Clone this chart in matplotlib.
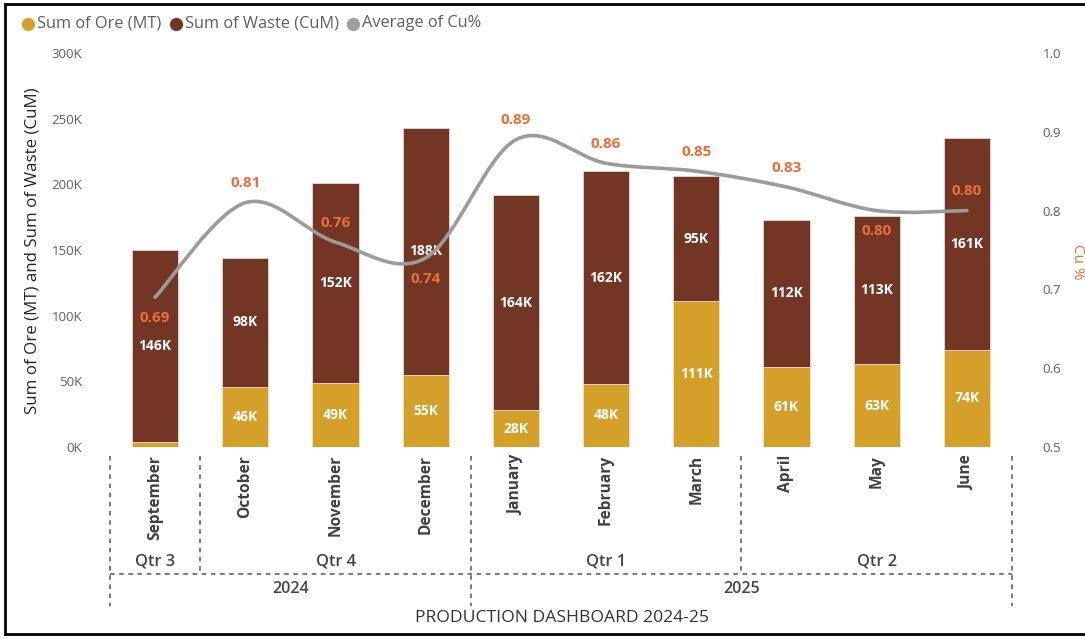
import matplotlib
matplotlib.use("Agg")
import matplotlib.pyplot as plt
from matplotlib.path import Path
from matplotlib.patches import PathPatch
from matplotlib.lines import Line2D
from matplotlib.ticker import FuncFormatter, MultipleLocator

plt.rcParams['font.family'] = ['Open Sans', 'DejaVu Sans']

months = ["September", "October", "November", "December", "January",
          "February", "March", "April", "May", "June"]
quarters = ["Qtr 3", "Qtr 4", "Qtr 1", "Qtr 2"]
quarter_sizes = [1, 3, 3, 3]
years = ["2024", "2025"]
year_sizes = [4, 6]
ore = [4, 46, 49, 55, 28, 48, 111, 61, 63, 74]          # K MT
waste = [146, 98, 152, 188, 164, 162, 95, 112, 113, 161]  # K CuM
cu = [0.69, 0.81, 0.76, 0.74, 0.89, 0.86, 0.85, 0.83, 0.80, 0.80]
cu_label_pos = ["below", "above", "above", "below", "above",
                "above", "above", "above", "below", "above"]

ORE_C = "#D4A02A"
WASTE_C = "#733524"
LINE_C = "#9B9B9B"
LBL_C = "#E8703A"
TXT_C = "#605E5C"

fig = plt.figure(figsize=(10.85, 6.39), dpi=100)
ax = fig.add_axes([110/1085, 1-447/639, 902/1085, 394/639])
ax2 = ax.twinx()
ax.set_zorder(1)
ax2.set_zorder(2)
ax.patch.set_visible(False)

x = list(range(len(months)))
w = 0.51
ax.bar(x, ore, w, color=ORE_C, edgecolor="#F3E3B8", linewidth=0.6)
ax.bar(x, waste, w, bottom=ore, color=WASTE_C, edgecolor="#E9D8D2", linewidth=0.6)

for i in x:
    if ore[i] >= 10:
        ax.text(i, ore[i]/2, f"{ore[i]}K", ha="center", va="center", color="white",
                fontsize=10, fontweight="bold")
    ax.text(i, ore[i] + waste[i]/2, f"{waste[i]}K", ha="center", va="center",
            color="white", fontsize=10, fontweight="bold")

ax.set_xlim(-0.5, len(months)-0.5)
ax.set_ylim(0, 300)
ax.yaxis.set_major_locator(MultipleLocator(50))
ax.yaxis.set_major_formatter(FuncFormatter(lambda v, p: f"{int(v)}K"))
ax.tick_params(axis="y", length=0, labelsize=9.5, labelcolor=TXT_C, pad=20)
ax.set_xticks([])
for s in ax.spines.values():
    s.set_visible(False)

# smooth line (cardinal spline through the points)
ax2.set_ylim(0.5, 1.0)
ax2.yaxis.set_major_locator(MultipleLocator(0.1))
ax2.yaxis.set_major_formatter(FuncFormatter(lambda v, p: f"{v:.1f}"))
ax2.tick_params(axis="y", length=0, labelsize=9.5, labelcolor=TXT_C, pad=22)
for s in ax2.spines.values():
    s.set_visible(False)
pts = list(zip(x, cu))
verts = [pts[0]]
codes = [Path.MOVETO]
t = 0.5
for i in range(len(pts)-1):
    p0 = pts[i-1] if i > 0 else pts[i]
    p1 = pts[i]
    p2 = pts[i+1]
    p3 = pts[i+2] if i+2 < len(pts) else pts[i+1]
    c1 = (p1[0] + (p2[0]-p0[0])*t/3, p1[1] + (p2[1]-p0[1])*t/3)
    c2 = (p2[0] - (p3[0]-p1[0])*t/3, p2[1] - (p3[1]-p1[1])*t/3)
    verts += [c1, c2, p2]
    codes += [Path.CURVE4]*3
ax2.add_patch(PathPatch(Path(verts, codes), facecolor="none", edgecolor=LINE_C,
                        linewidth=2.6, capstyle="round", joinstyle="round"))
for i in x:
    off = 14 if cu_label_pos[i] == "above" else -15
    ax2.annotate(f"{cu[i]:.2f}", (i, cu[i]), xytext=(0, off), textcoords="offset points",
                 ha="center", va="center", color=LBL_C, fontsize=11, fontweight="bold")

# axis titles
fig.text(33/1085, 1-251/639, "Sum of Ore (MT) and Sum of Waste (CuM)", rotation=90,
         ha="center", va="center", fontsize=12.2, color="#252423")
fig.text(1077/1085, 1-262/639, "Cu %", rotation=270, ha="center", va="center",
         fontsize=11, color=LBL_C)

# month labels
for i, m in enumerate(months):
    ax.text(i, -6, m, rotation=90, ha="center", va="top", fontsize=11.2,
            fontweight="bold", color="#404040", clip_on=False)

trans = ax.get_xaxis_transform()
def vy(py):
    # pixel row (from top of figure) to axes-fraction y
    return (447 - py) / 394.0

dash = dict(color="#555555", linewidth=1.1, linestyle=(0, (3, 3)), clip_on=False,
            transform=trans)
ybounds = [-0.5]
acc = -0.5
for s in year_sizes:
    acc += s
    ybounds.append(acc)
qbounds = [-0.5]
acc = -0.5
for s in quarter_sizes:
    acc += s
    qbounds.append(acc)
for b in ybounds:
    ax.add_line(Line2D([b, b], [vy(456), vy(606)], **dash))
for b in qbounds:
    if b not in ybounds:
        ax.add_line(Line2D([b, b], [vy(456), vy(574)], **dash))
ax.add_line(Line2D([-0.5, len(months)-0.5], [vy(574), vy(574)], **dash))

for i, q in enumerate(quarters):
    c = (qbounds[i] + qbounds[i+1]) / 2
    ax.text(c, vy(561), q, transform=trans, ha="center", va="center",
            fontsize=11.8, color="#454545", fontweight="semibold")
for i, yv in enumerate(years):
    c = (ybounds[i] + ybounds[i+1]) / 2
    ax.text(c, vy(589), yv, transform=trans, ha="center", va="center",
            fontsize=11.5, color="#454545", fontweight="semibold")

fig.text(562/1085, 1-618/639, "PRODUCTION DASHBOARD 2024-25", ha="center", va="center",
         fontsize=12.6, color="#333333")

# legend
items = [("Sum of Ore (MT)", ORE_C), ("Sum of Waste (CuM)", WASTE_C),
         ("Average of Cu%", "#A09E9C")]
xs = [28, 176, 353]
for (lab, col), px in zip(items, xs):
    fig.add_artist(Line2D([px/1085], [1-24/639], marker="o", markersize=8.5,
                          color=col, linestyle="none", transform=fig.transFigure))
    fig.text((px+9)/1085, 1-23/639, lab, color=TXT_C, fontsize=11.8, ha="left", va="center")

# outer frame (left, top, bottom)
fr = dict(color="black", linewidth=2, transform=fig.transFigure)
fig.add_artist(Line2D([5/1085, 5/1085], [5/639, 1-4/639], **fr))
fig.add_artist(Line2D([5/1085, 1], [1-4/639, 1-4/639], **fr))
fig.add_artist(Line2D([5/1085, 1], [5/639, 5/639], **fr))

fig.savefig("out.png", dpi=100)
